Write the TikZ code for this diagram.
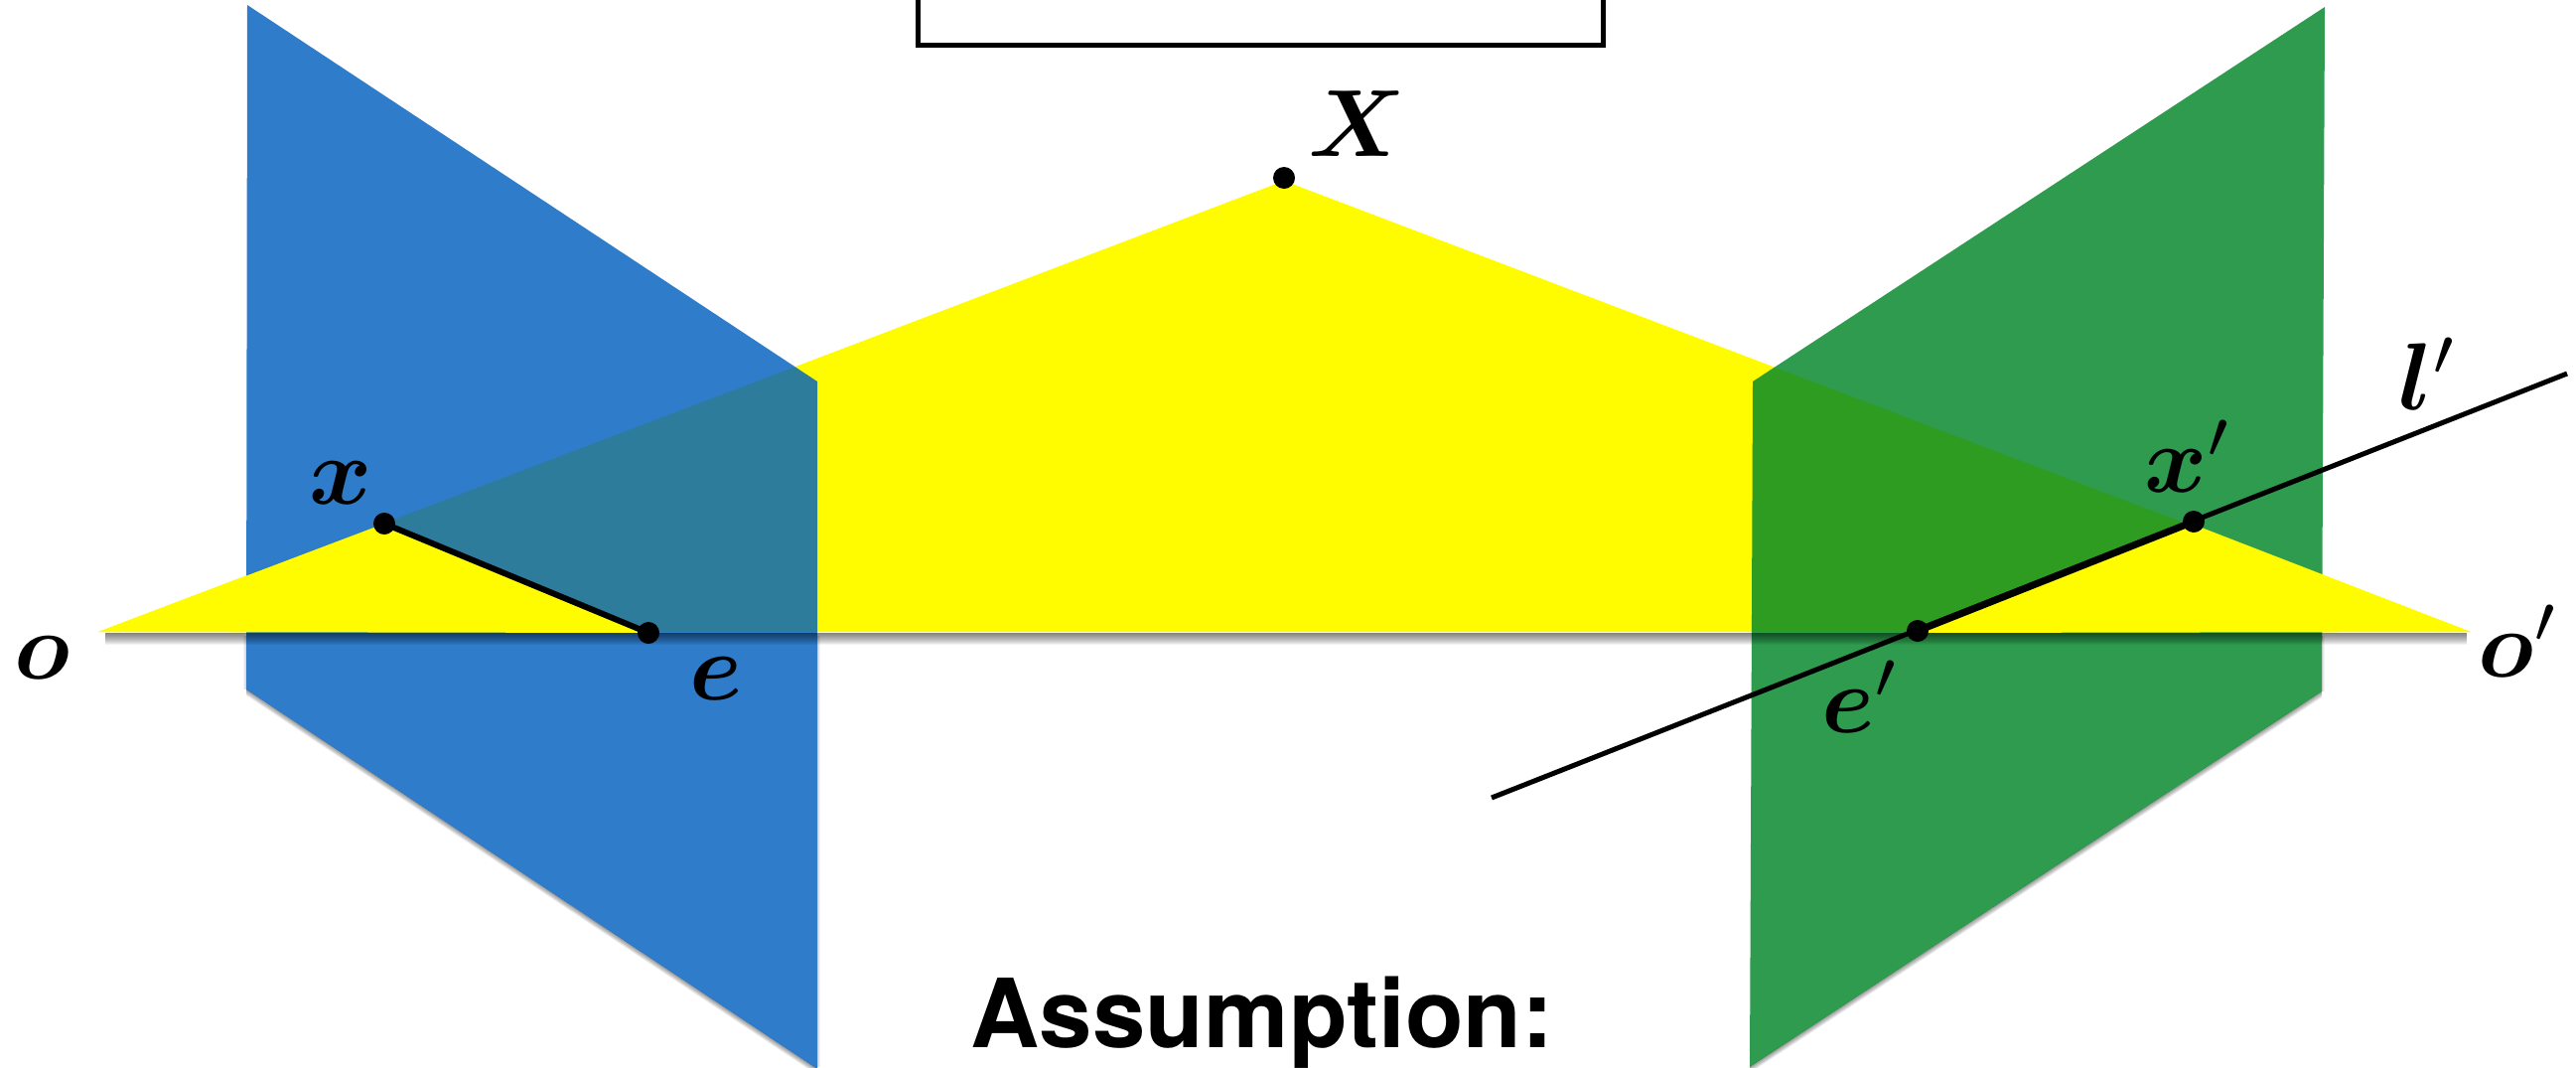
\documentclass[tikz,border=0pt]{standalone}
\usepackage{fontspec}
\usepackage{amsmath}
\usepackage{bm}
\setmainfont{TeX Gyre Heros}
\usetikzlibrary{calc}
\definecolor{bluep}{RGB}{0,96,191}
\definecolor{greenp}{RGB}{0,134,41}
\definecolor{yel}{RGB}{255,252,0}
\tikzset{
  plane/.style={draw=none,fill opacity=.82},
  softshade/.style={fill=black,draw=none,fill opacity=.07},
  baseshade/.style={fill=black,draw=none,fill opacity=.05},
  faintshade/.style={fill=black,draw=none,fill opacity=.05},
  yellowfill/.style={fill=yel,draw=none},
  dotmark/.style={circle,fill=black,draw=none,minimum size=22pt,inner sep=0pt},
  labelmath/.style={scale=9.6,anchor=base west,inner sep=0pt,outer sep=0pt},
  epiline/.style={black,line width=5pt},
  headtext/.style={font=\fontsize{96}{96}\selectfont\bfseries,anchor=base,inner sep=0pt},
}
\begin{document}
\begin{tikzpicture}[x=1pt,y=-1pt]
\useasboundingbox (0,0) rectangle (2594,1074);
\clip (0,0) rectangle (2594,1074);
\fill[white] (0,0) rectangle (2594,1074);
% named vertices
\coordinate (o) at (99,636);
\coordinate (Xp) at (1293,182);
\coordinate (op) at (2488,636);
\coordinate (b1) at (249,5);
\coordinate (b2) at (823,384);
\coordinate (b3) at (823,1076);
\coordinate (b4) at (248,694);
\coordinate (g1) at (2341,7);
\coordinate (g2) at (1765,384);
\coordinate (g3) at (1762,1074);
\coordinate (g4) at (2338,696);
\coordinate (xp) at (387,527);
\coordinate (ep) at (653,637);
\coordinate (xq) at (2209,528);
\coordinate (eq) at (1931,637);
\coordinate (lA) at (1502,803);
\coordinate (lB) at (2585,376);
% box
\draw[black,line width=5pt] (924,-10) -- (924,45) -- (1614,45) -- (1614,-10);
% yellow plane
\fill[yellowfill] (o) -- (Xp) -- (op) -- cycle;
% image planes
\fill[plane,bluep] (b1) -- (b2) -- (b3) -- (b4) -- cycle;
\fill[plane,greenp] (g1) -- (g2) -- (g3) -- (g4) -- cycle;
% soft shadows of the planes
\foreach \i in {1,2,3,4,5,6}{
  \fill[softshade] (b4) -- (b3) -- ($(b3)+(0,\i)$) -- ($(b4)+(0,\i)$) -- cycle;
  \fill[softshade] (g4) -- (g3) -- ($(g3)+(0,\i)$) -- ($(g4)+(0,\i)$) -- cycle;
}
\foreach \i in {1,2,3}{
  \fill[faintshade] (248,640) rectangle (248-\i,694);
  \fill[faintshade] (2338,640) rectangle (2338+\i,696);
  \fill[faintshade] (823,640) rectangle (823+\i,1074);
}
% shadow under base line
\foreach \i in {1,2,...,12}{
  \fill[baseshade] (106,637) rectangle (2484,637+\i);
}
% yellow triangles in front of planes
\fill[yellowfill] (o) -- (xp) -- (ep) -- cycle;
\fill[yellowfill] (op) -- (xq) -- (eq) -- cycle;
% points
\node[dotmark] (X) at (1293,179) {};
\node[dotmark] (x) at (387,527) {};
\node[dotmark] (e) at (653,637) {};
\node[dotmark] (xd) at (2209,525) {};
\node[dotmark] (ed) at (1931,635) {};
% lines
\draw[epiline,line width=6pt] (x.center) -- (e.center);
\draw[epiline] (lA) -- (lB);
\draw[epiline,line width=7pt] (ed.center) -- (xd.center);
% labels
\node[labelmath] (tX) at (1317,157) {$\bm{X}$};
\node[labelmath] (tx) at (311,507) {$\bm{x}$};
\node[labelmath] (to) at (14,683) {$\bm{o}$};
\node[labelmath] (te) at (694,704) {$\bm{e}$};
\node[labelmath] (txd) at (2159,495) {$\bm{x}'$};
\node[labelmath] (ted) at (1834,737) {$\bm{e}'$};
\node[labelmath] (tod) at (2495,681) {$\bm{o}'$};
\node[labelmath] (tld) at (2415,412) {$\bm{l}'$};
\node[headtext] (head) at (1271,1054) {Assumption:};
\end{tikzpicture}
\end{document}
